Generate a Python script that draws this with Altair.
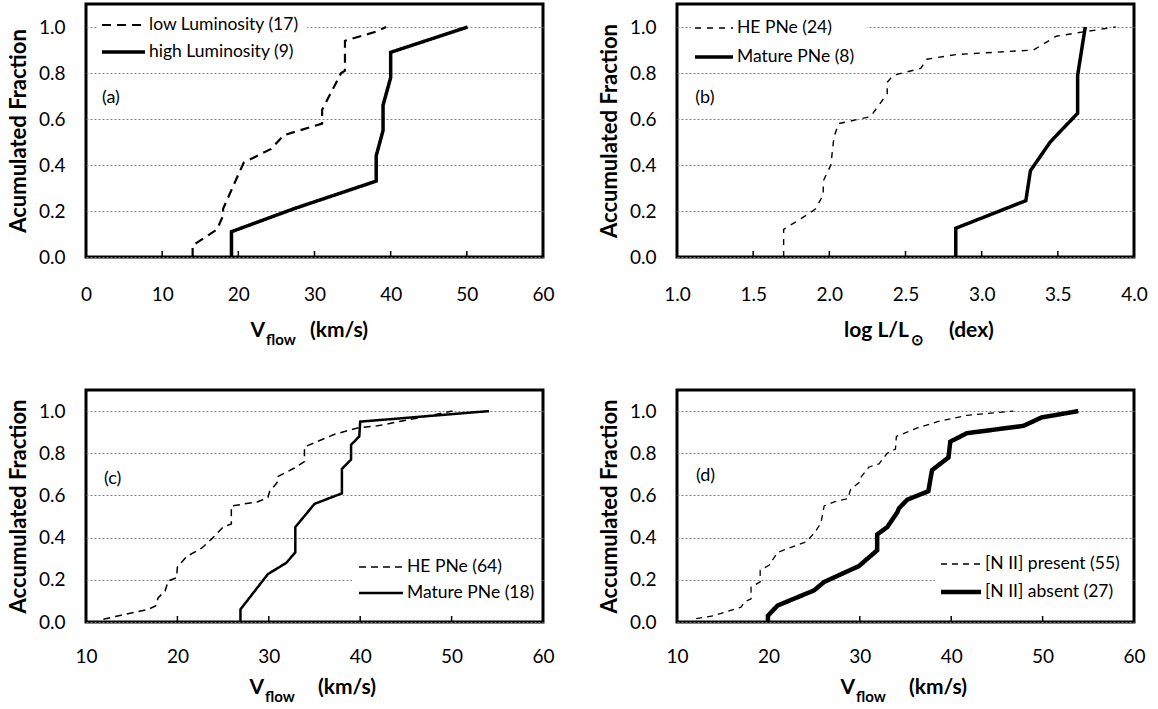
import altair as alt
import pandas as pd

FONT = "Lato"

# ---------------- data ----------------
# (a) Vflow, low vs high luminosity
a_low_x = [14.0, 14.0, 17.2, 18.0, 18.0, 20.7, 24.3, 26.0, 31.0, 31.0, 33.5, 34.0, 34.0, 38.1, 39.4]
a_low_y = [0.0, 0.05, 0.12, 0.18, 0.21, 0.41, 0.47, 0.53, 0.58, 0.64, 0.80, 0.81, 0.94, 0.98, 1.00]
a_high_x = [19.1, 19.1, 27.3, 38.1, 38.1, 39.0, 39.0, 40.0, 40.0, 50.1]
a_high_y = [0.0, 0.11, 0.21, 0.33, 0.44, 0.55, 0.66, 0.78, 0.89, 1.0]

# (b) log L/Lsun, HE vs Mature
b_he_x = [1.70, 1.70, 1.87, 1.91, 1.96, 1.96, 2.01, 2.03, 2.06, 2.27, 2.38, 2.38, 2.42, 2.60, 2.64, 2.83, 3.34, 3.49, 3.68, 3.88]
b_he_y = [0.0, 0.12, 0.19, 0.21, 0.27, 0.33, 0.40, 0.52, 0.58, 0.61, 0.71, 0.76, 0.79, 0.82, 0.86, 0.88, 0.90, 0.96, 0.98, 1.00]
b_mat_x = [2.83, 2.83, 3.29, 3.32, 3.45, 3.63, 3.63, 3.68]
b_mat_y = [0.0, 0.125, 0.245, 0.375, 0.50, 0.625, 0.79, 1.0]

# (c) Vflow, HE vs Mature
c_he_x = [11.9, 13.6, 16.8, 17.6, 17.9, 18.65, 19.0, 19.9, 20.0, 21.0, 22.65, 23.9, 25.0, 25.9, 25.9, 28.8,
          29.9, 30.1, 30.9, 31.0, 32.8, 33.9, 33.9, 37.2, 39.7, 41.9, 50.1]
c_he_y = [0.013, 0.03, 0.06, 0.076, 0.115, 0.147, 0.195, 0.21, 0.26, 0.31, 0.35, 0.40, 0.45, 0.465, 0.55, 0.57,
          0.59, 0.62, 0.66, 0.69, 0.73, 0.76, 0.83, 0.89, 0.92, 0.93, 1.0]
c_mat_x = [26.9, 26.9, 29.9, 31.9, 32.9, 32.9, 35.0, 38.0, 38.0, 39.0, 39.0, 39.9, 40.0, 54.1]
c_mat_y = [0.0, 0.06, 0.227, 0.28, 0.33, 0.45, 0.56, 0.61, 0.726, 0.77, 0.84, 0.88, 0.95, 1.0]

# (d) Vflow, [N II] present vs absent
d_pres_x = [12.1, 14.0, 17.0, 17.4, 18.1, 18.1, 19.1, 19.1, 20.1, 21.0, 24.1, 25.0, 25.75, 26.1, 27.2, 28.7,
            29.0, 29.9, 30.1, 31.0, 32.1, 33.0, 33.9, 34.0, 36.3, 38.5, 41.7, 46.8]
d_pres_y = [0.016, 0.03, 0.07, 0.095, 0.11, 0.165, 0.19, 0.245, 0.27, 0.33, 0.38, 0.42, 0.47, 0.55, 0.57, 0.585,
            0.63, 0.66, 0.685, 0.735, 0.75, 0.80, 0.82, 0.88, 0.92, 0.95, 0.98, 1.0]
d_abs_x = [19.95, 19.95, 21.0, 25.0, 26.1, 29.9, 31.9, 31.9, 33.0, 34.1, 34.3, 35.2, 37.5, 37.9, 39.7, 39.9,
           41.7, 47.9, 49.9, 53.9]
d_abs_y = [0.0, 0.03, 0.078, 0.15, 0.19, 0.265, 0.34, 0.415, 0.45, 0.52, 0.54, 0.58, 0.62, 0.72, 0.78, 0.855,
           0.895, 0.93, 0.97, 1.0]

y_ticks = [0.0, 0.2, 0.4, 0.6, 0.8, 1.0]
v_ticks_a = [0, 10, 20, 30, 40, 50, 60]
l_ticks_b = [1.0, 1.5, 2.0, 2.5, 3.0, 3.5, 4.0]
v_ticks_cd = [10, 20, 30, 40, 50, 60]

W = 457
H_TOP = 253
H_BOT = 232


def panel(series, dashes, widths, xdom, xticks, xfmt, H, tag, tag_xy, leg, title_parts, title_dy,
          label_pad, ytitle):
    rows = []
    for name, xs, ys in series:
        for i, (xv, yv) in enumerate(zip(xs, ys)):
            rows.append({"x": xv, "y": yv, "s": name, "i": i})
    df = pd.DataFrame(rows)
    names = [s[0] for s in series]

    xscale = alt.Scale(domain=xdom, nice=False, zero=False)
    yscale = alt.Scale(domain=[0, 1.1], nice=False, zero=True)
    xaxis = alt.Axis(values=xticks, format=xfmt, title=None, ticks=False, domain=False, grid=False,
                     labelFont=FONT, labelFontSize=19, labelColor="black", labelPadding=label_pad,
                     labelFlush=False, labelOverlap=False)
    yaxis = alt.Axis(values=y_ticks, format=".1f", title=ytitle, ticks=False, domain=False, grid=True,
                     gridColor="#808080", gridDash=[2, 2], gridWidth=1,
                     labelFont=FONT, labelFontSize=19, labelColor="black", labelPadding=21,
                     titleFont=FONT, titleFontSize=22, titleFontWeight="bold", titleColor="black",
                     titlePadding=8)
    X = alt.X("x:Q", scale=xscale, axis=xaxis)
    Y = alt.Y("y:Q", scale=yscale, axis=yaxis)

    # legend box (white, hides the grid like the original)
    (bx0, by0, bx1, by1), sx0, slen, rows_y = leg
    box = alt.Chart(pd.DataFrame({"a": [0]})).mark_rect(color="white").encode(
        x=alt.value(bx0), x2=alt.value(bx1), y=alt.value(by0), y2=alt.value(by1))

    lines = alt.Chart(df).mark_line(color="black", strokeCap="butt", strokeJoin="miter").encode(
        x=X, y=Y,
        order=alt.Order("i:Q"),
        strokeDash=alt.StrokeDash("s:N", scale=alt.Scale(domain=names, range=dashes), legend=None),
        strokeWidth=alt.StrokeWidth("s:N", scale=alt.Scale(domain=names, range=widths), legend=None),
    )

    inner = [t for t in xticks if xdom[0] < t < xdom[1]]
    ticks = alt.Chart(pd.DataFrame({"x": inner})).mark_rule(color="black", strokeWidth=1.5).encode(
        x=alt.X("x:Q", scale=xscale, axis=xaxis), y=alt.value(H), y2=alt.value(H - 6))

    lab = alt.Chart(pd.DataFrame({"x": [tag_xy[0]], "y": [tag_xy[1]], "t": [tag]})).mark_text(
        align="left", baseline="middle", font=FONT, fontSize=18, color="black").encode(
        x=X, y=Y, text="t:N")

    layers = [box, lines, ticks, lab]

    for name, dash, wid, ry in zip(names, dashes, widths, rows_y):
        layers.append(alt.Chart(pd.DataFrame({"a": [0]})).mark_rule(
            color="black", strokeDash=dash, strokeWidth=wid, strokeCap="butt").encode(
            x=alt.value(sx0), x2=alt.value(sx0 + slen), y=alt.value(ry)))
        layers.append(alt.Chart(pd.DataFrame({"t": [name]})).mark_text(
            align="left", baseline="middle", font=FONT, fontSize=17.5, color="black").encode(
            text="t:N", x=alt.value(sx0 + slen + 4), y=alt.value(ry)))

    for txt, px, dy, size, align in title_parts:
        layers.append(alt.Chart(pd.DataFrame({"t": [txt]})).mark_text(
            align=align, baseline="alphabetic", font=FONT, fontSize=size, fontWeight="bold",
            color="black").encode(text="t:N", x=alt.value(px), y=alt.value(H + title_dy + dy)))

    return alt.layer(*layers).properties(width=W, height=H).resolve_scale(
        strokeDash="independent", strokeWidth="independent")


pa = panel([("low Luminosity (17)", a_low_x, a_low_y), ("high Luminosity (9)", a_high_x, a_high_y)],
           [[9, 6], [1, 0]], [2.2, 3.5], [0, 60], v_ticks_a, "d", H_TOP, "(a)", (2.1, 0.69),
           ((12, 8, 221, 61), 16, 43, [21, 48]),
           [("V", 179, 0, 21, "right"), ("flow", 180, 8, 15, "left"), ("(km/s)", 224, 0, 21, "left")],
           80, 28, "Acumulated Fraction")
pb = panel([("HE PNe (24)", b_he_x, b_he_y), ("Mature PNe (8)", b_mat_x, b_mat_y)],
           [[6, 6], [1, 0]], [1.4, 3.5], [1.0, 4.0], l_ticks_b, ".1f", H_TOP, "(b)", (1.12, 0.69),
           ((14, 10, 190, 66), 18, 38, [24, 53]),
           [("log L/L", 232, 0, 21, "right"), ("\u2299", 234, 8, 15, "left"), ("(dex)", 272, 0, 21, "left")],
           80, 28, "Accumulated Fraction")
pc = panel([("HE PNe (64)", c_he_x, c_he_y), ("Mature PNe (18)", c_mat_x, c_mat_y)],
           [[7, 5], [1, 0]], [1.5, 2.5], [10, 60], v_ticks_cd, "d", H_BOT, "(c)", (11.96, 0.68),
           ((266, 163, 455, 217), 273, 44, [177, 203]),
           [("V", 178, 0, 21, "right"), ("flow", 179, 8, 15, "left"), ("(km/s)", 232, 0, 21, "left")],
           72, 25, "Accumulated Fraction")
pd_ = panel([("[N II] present (55)", d_pres_x, d_pres_y), ("[N II] absent (27)", d_abs_x, d_abs_y)],
            [[6, 5], [1, 0]], [1.3, 4.5], [10, 60], v_ticks_cd, "d", H_BOT, "(d)", (12.07, 0.69),
            ((258, 159, 455, 216), 264, 40, [174, 202]),
            [("V", 178, 0, 21, "right"), ("flow", 179, 8, 15, "left"), ("(km/s)", 232, 0, 21, "left")],
            72, 25, "Accumulated Fraction")

row1 = alt.hconcat(pa, pb, spacing=40).resolve_scale(strokeDash="independent", strokeWidth="independent")
row2 = alt.hconcat(pc, pd_, spacing=40).resolve_scale(strokeDash="independent", strokeWidth="independent")
chart = alt.vconcat(row1, row2, spacing=38).resolve_scale(
    strokeDash="independent", strokeWidth="independent").properties(
    padding={"left": 5, "top": 2, "right": 5, "bottom": 2}).configure(
    font=FONT, background="white").configure_view(stroke="black", strokeWidth=3)

chart.save("out.html", embed_options={"renderer": "svg", "actions": False})
